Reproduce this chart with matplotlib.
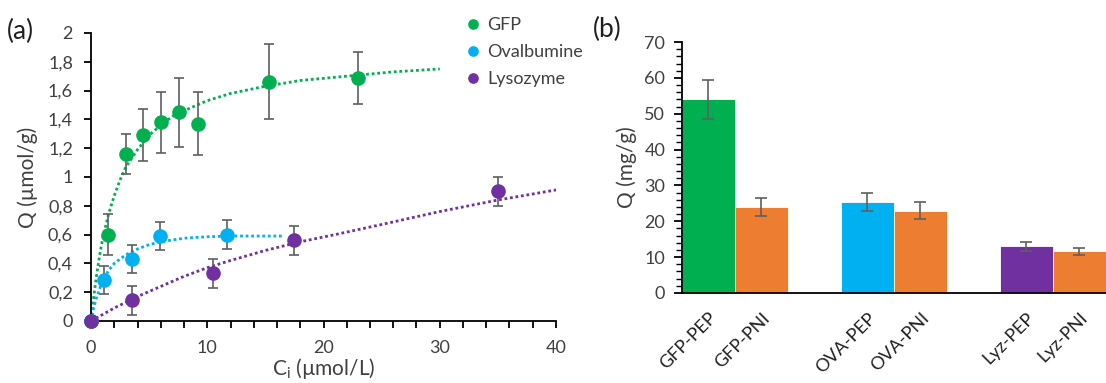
import matplotlib
matplotlib.use("Agg")
from matplotlib import pyplot as plt
from matplotlib.ticker import MultipleLocator, FuncFormatter

plt.rcParams['font.family'] = ['Lato', 'DejaVu Sans']

# ---- panel (a): isotherm data ----
gfp_x = [0, 1.5, 3.0, 4.5, 6.0, 7.6, 9.2, 15.3, 23.0]
gfp_y = [0, 0.60, 1.16, 1.29, 1.38, 1.45, 1.37, 1.66, 1.69]
gfp_err = [0, 0.145, 0.14, 0.18, 0.21, 0.24, 0.22, 0.26, 0.18]

ova_x = [0, 1.1, 3.5, 5.9, 11.7]
ova_y = [0, 0.285, 0.43, 0.59, 0.60]
ova_err = [0, 0.10, 0.10, 0.10, 0.10]

lyz_x = [0, 3.5, 10.5, 17.5, 35.0]
lyz_y = [0, 0.145, 0.33, 0.56, 0.90]
lyz_err = [0, 0.10, 0.10, 0.10, 0.10]

# fitted curves
gfp_fit_x = [0, 0.25, 0.5, 0.75, 1, 1.5, 2, 2.5, 3, 4, 5, 6, 7, 8, 10, 12, 15, 18, 22, 26, 30]
gfp_fit_y = [0, 0.18, 0.33, 0.46, 0.57, 0.74, 0.87, 0.98, 1.07, 1.19, 1.29, 1.36, 1.42, 1.46, 1.53, 1.58, 1.63, 1.67, 1.70, 1.73, 1.75]
ova_fit_x = [0, 0.25, 0.5, 1, 1.5, 2, 3, 4, 5, 6, 8, 10, 12, 14, 16.5]
ova_fit_y = [0, 0.10, 0.17, 0.28, 0.35, 0.40, 0.46, 0.50, 0.53, 0.55, 0.575, 0.585, 0.59, 0.59, 0.59]
lyz_fit_x = [0, 2, 4, 6, 8, 10, 12, 15, 18, 21, 25, 30, 35, 40]
lyz_fit_y = [0, 0.09, 0.17, 0.24, 0.31, 0.37, 0.42, 0.49, 0.55, 0.60, 0.67, 0.76, 0.84, 0.91]

# ---- panel (b): capacities ----
bar_labels = ['GFP-PEP', 'GFP-PNI', 'OVA-PEP', 'OVA-PNI', 'Lyz-PEP', 'Lyz-PNI']
bar_pos = [0, 1, 3, 4, 6, 7]
bar_values = [54.0, 24.0, 25.4, 23.0, 13.0, 11.6]
bar_err = [5.4, 2.4, 2.6, 2.3, 1.25, 1.0]

green = '#00B050'
cyan = '#00B0F0'
purple = '#7030A0'
orange = '#ED7D31'
errc = '#5f5f5f'
textc = '#404040'
bar_colors = [green, orange, cyan, orange, purple, orange]

fig = plt.figure(figsize=(11.06, 3.83), dpi=100)
ax1 = fig.add_axes([0.0823, 0.1619, 0.4204, 0.752])
ax2 = fig.add_axes([0.6166, 0.235, 0.3834, 0.6553])

# Plot isotherms
for fx, fy, c in [(gfp_fit_x, gfp_fit_y, green), (ova_fit_x, ova_fit_y, cyan), (lyz_fit_x, lyz_fit_y, purple)]:
    ax1.plot(fx, fy, color=c, lw=2, linestyle=(0, (1, 1)), zorder=2)
for x, y, e, c, lab in [(gfp_x, gfp_y, gfp_err, green, 'GFP'),
                        (ova_x, ova_y, ova_err, cyan, 'Ovalbumine'),
                        (lyz_x, lyz_y, lyz_err, purple, 'Lysozyme')]:
    ax1.errorbar(x, y, yerr=e, fmt='none', ecolor=errc, elinewidth=1.2, capsize=3.5, capthick=1.2, zorder=3)
    ax1.plot(x, y, 'o', color=c, markersize=9.5, zorder=4, label=lab, clip_on=False)

ax1.set_xlim(0, 40)
ax1.set_ylim(0, 2)
ax1.xaxis.set_major_locator(MultipleLocator(10))
ax1.xaxis.set_minor_locator(MultipleLocator(2))
ax1.yaxis.set_major_locator(MultipleLocator(0.2))
ax1.yaxis.set_major_formatter(FuncFormatter(lambda v, p: ('%g' % round(v, 1)).replace('.', ',')))
ax1.spines['top'].set_visible(False)
ax1.spines['right'].set_visible(False)
for s in ['left', 'bottom']:
    ax1.spines[s].set_linewidth(1.3)
ax1.tick_params(axis='x', which='major', direction='out', length=5, width=1.3, pad=9, labelsize=13, labelcolor=textc)
ax1.tick_params(axis='x', which='minor', direction='out', length=5, width=1.3)
ax1.tick_params(axis='y', direction='out', length=5, width=1.3, pad=8, labelsize=13, labelcolor=textc)
ax1.set_ylabel('Q (µmol/g)', fontsize=15, color=textc, labelpad=7)
ax1.set_xlabel(r'$\mathregular{C_i}$ (µmol/L)', fontsize=15, color=textc, labelpad=0)

ax1.legend(loc='upper left', bbox_to_anchor=(0.408, 0.998), bbox_transform=fig.transFigure,
           frameon=False, fontsize=13, markerscale=0.7, handlelength=0.6, handletextpad=0.5,
           labelspacing=0.62, borderaxespad=0.5, labelcolor=textc)

# Plot bars
ax2.bar(bar_pos, bar_values, width=1.0, color=bar_colors, edgecolor='white', linewidth=0.6, zorder=2)
ax2.errorbar(bar_pos, bar_values, yerr=bar_err, fmt='none', ecolor=errc, elinewidth=1.2,
             capsize=4, capthick=1.2, zorder=3)
ax2.set_xlim(-0.5, 7.5)
ax2.set_ylim(0, 70)
ax2.yaxis.set_major_locator(MultipleLocator(10))
ax2.yaxis.set_minor_locator(MultipleLocator(2))
ax2.set_xticks(bar_pos)
ax2.set_xticklabels(bar_labels, rotation=45, ha='right', va='top', rotation_mode='anchor',
                    fontsize=13, color='#202020')
ax2.tick_params(axis='x', length=0, pad=12)
ax2.tick_params(axis='y', which='major', direction='out', length=6, width=1.3, pad=6, labelsize=13, labelcolor=textc)
ax2.tick_params(axis='y', which='minor', direction='out', length=4, width=1.0)
ax2.spines['top'].set_visible(False)
ax2.spines['right'].set_visible(False)
for s in ['left', 'bottom']:
    ax2.spines[s].set_linewidth(1.3)
ax2.set_ylabel('Q (mg/g)', fontsize=15, color=textc, labelpad=5)

fig.text(0.006, 0.918, '(a)', fontsize=19, color='#202020', va='center')
fig.text(0.536, 0.922, '(b)', fontsize=19, color='#202020', va='center')

fig.savefig('out.png', dpi=100)
